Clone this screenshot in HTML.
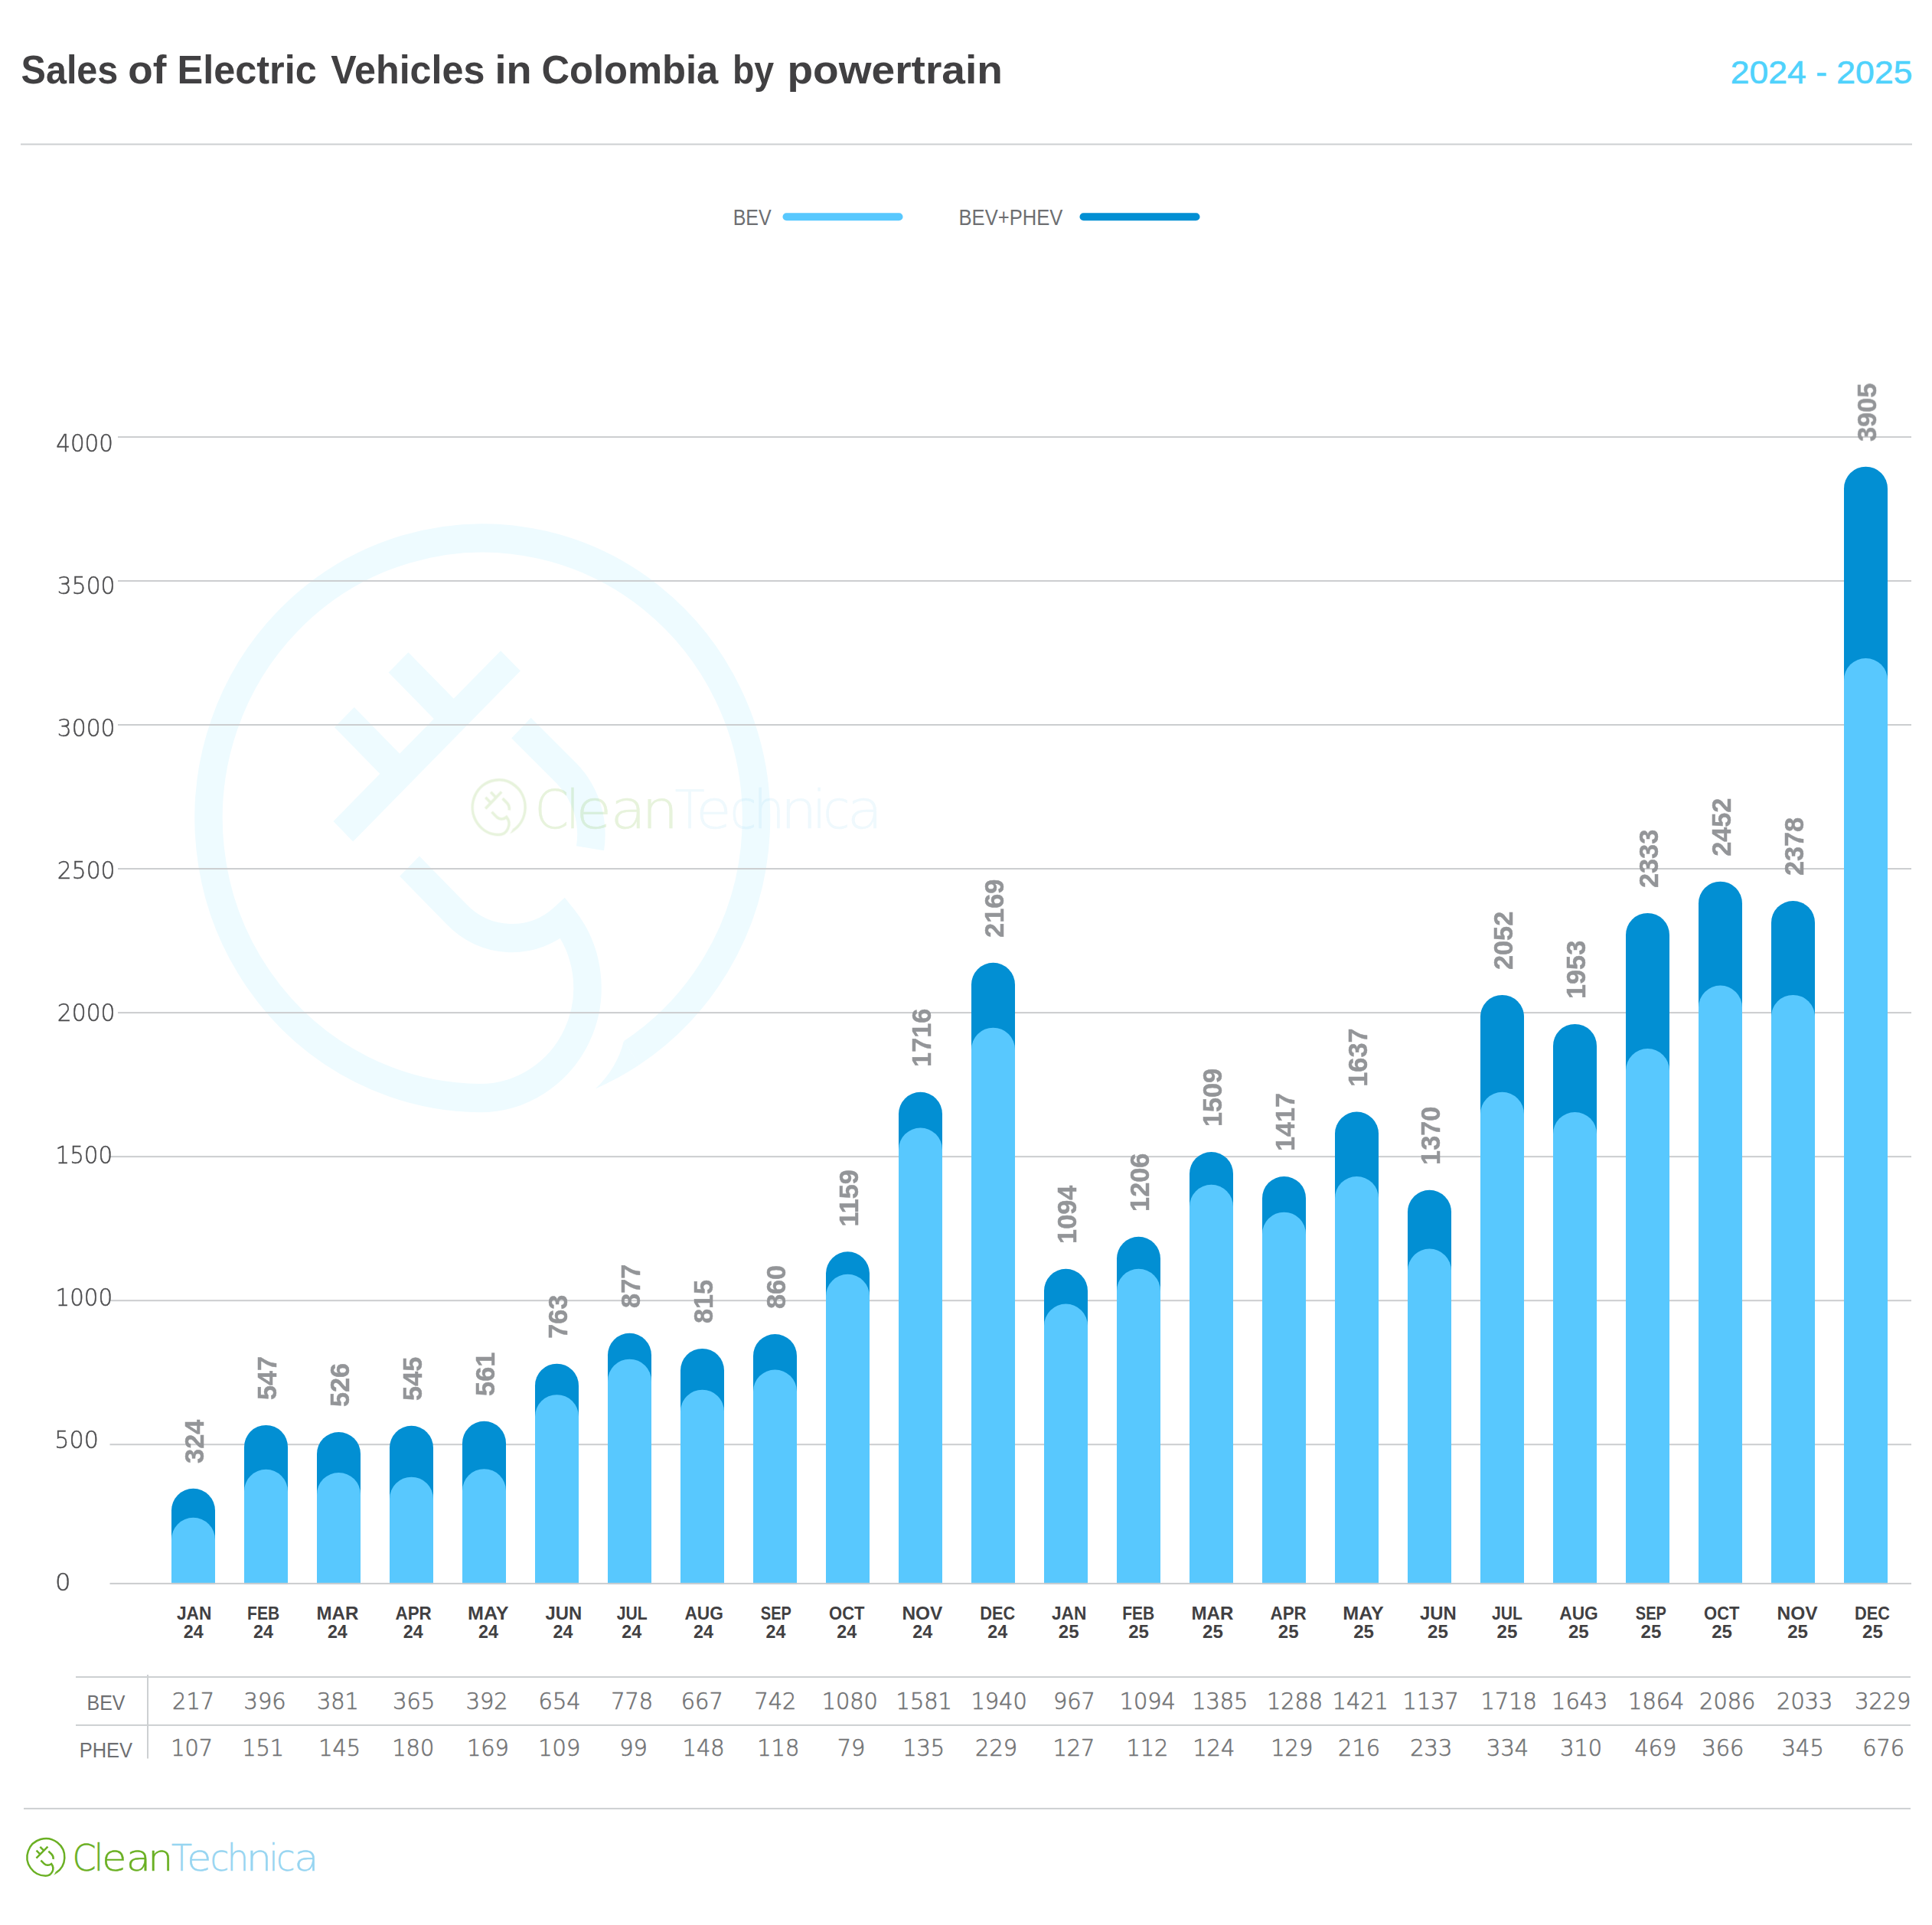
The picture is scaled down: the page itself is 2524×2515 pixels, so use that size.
<!DOCTYPE html>
<html lang="en"><head><meta charset="utf-8"><title>Sales of Electric Vehicles in Colombia by powertrain</title>
<style>html,body{margin:0;padding:0;background:#fff}svg{display:block}text{font-family:"Liberation Sans",sans-serif}.t{font-family:"DejaVu Sans Light","DejaVu Sans","Liberation Sans",sans-serif;font-weight:200}</style></head><body>
<svg width="2524" height="2515" viewBox="0 0 2524 2515">
<rect width="2524" height="2515" fill="#fff"/>
<text y="109.2" font-size="52" font-weight="700" fill="#414042"><tspan x="27.6" textLength="126.7" lengthAdjust="spacingAndGlyphs">Sales</tspan> <tspan x="167.3" textLength="50.1" lengthAdjust="spacingAndGlyphs">of</tspan> <tspan x="231.6" textLength="182.2" lengthAdjust="spacingAndGlyphs">Electric</tspan> <tspan x="432.3" textLength="201.1" lengthAdjust="spacingAndGlyphs">Vehicles</tspan> <tspan x="646.5" textLength="48.1" lengthAdjust="spacingAndGlyphs">in</tspan> <tspan x="707.4" textLength="230.8" lengthAdjust="spacingAndGlyphs">Colombia</tspan> <tspan x="956.9" textLength="54.3" lengthAdjust="spacingAndGlyphs">by</tspan> <tspan x="1028.5" textLength="281.4" lengthAdjust="spacingAndGlyphs">powertrain</tspan></text>
<text x="2260.8" y="109.0" font-size="42" fill="#4fd2fc" textLength="237.6" lengthAdjust="spacingAndGlyphs" stroke="#4fd2fc" stroke-width="0.6">2024 - 2025</text>
<rect x="27" y="187.5" width="2471" height="2" fill="#cdd0d2"/>
<text x="957.7" y="293.5" font-size="28.8" fill="#6d6e71" textLength="50.0" lengthAdjust="spacingAndGlyphs">BEV</text>
<rect x="1022.5" y="278.2" width="157" height="10" rx="5" fill="#58c8fe"/>
<text x="1252.5" y="293.5" font-size="28.8" fill="#6d6e71" textLength="135.8" lengthAdjust="spacingAndGlyphs">BEV+PHEV</text>
<rect x="1410.5" y="278.2" width="157" height="10" rx="5" fill="#028fd3"/>
<g transform="translate(630.3 1068.8) scale(376 384.5)" fill="none" stroke="#eefbff" stroke-width="0.097"><path stroke-linejoin="miter" stroke-miterlimit="10" d="M-.2535 .1633L-.0896 .3274A.268 .268 0 0 0 .2803 .3401A.3744 .3744 0 0 1 -.01 .9515A.9515 .9515 0 1 1 .5182 .798"/><path d="M.4913 .7565L.5446 .8387A1 1 0 0 1 .3923 .9198Q.468 .85 .4913 .7565Z" fill="#eefbff" stroke="none"/><path d="M.0976 -.5342L-.484 .0453M-.292 -.529L-.0998 -.3368M-.4798 -.3425L-.2869 -.1496"/><path d="M.1346 -.3058L.2915 -.1527A.295 .295 0 0 1 .3742 .1027"/></g>
<g opacity="0.16">
<g transform="translate(651.7 1054.7) scale(36.2 37.7)" fill="none" stroke="#6ab023" stroke-width="0.097"><path stroke-linejoin="miter" stroke-miterlimit="10" d="M-.2535 .1633L-.0896 .3274A.268 .268 0 0 0 .2803 .3401A.3744 .3744 0 0 1 -.01 .9515A.9515 .9515 0 1 1 .5182 .798"/><path d="M.4913 .7565L.5446 .8387A1 1 0 0 1 .3923 .9198Q.468 .85 .4913 .7565Z" fill="#6ab023" stroke="none"/><path d="M.0976 -.5342L-.484 .0453M-.292 -.529L-.0998 -.3368M-.4798 -.3425L-.2869 -.1496"/><path d="M.1346 -.3058L.2915 -.1527A.295 .295 0 0 1 .3742 .1027"/></g>
<text class="t" y="1081.8" font-size="69" fill="#6ab023" stroke="#6ab023" stroke-width="0.5"><tspan x="698.5" textLength="44.8" lengthAdjust="spacingAndGlyphs">C</tspan><tspan x="739.3" textLength="17.8" lengthAdjust="spacingAndGlyphs">l</tspan><tspan x="752.5" textLength="46.6" lengthAdjust="spacingAndGlyphs">e</tspan><tspan x="797.4" textLength="46.5" lengthAdjust="spacingAndGlyphs">a</tspan><tspan x="838.2" textLength="48.1" lengthAdjust="spacingAndGlyphs">n</tspan></text>
<text class="t" y="1081.8" font-size="69" fill="#97d5f1" stroke="#97d5f1" stroke-width="0.5"><tspan x="881.5" textLength="39.2" lengthAdjust="spacingAndGlyphs">T</tspan><tspan x="908.9" textLength="46.7" lengthAdjust="spacingAndGlyphs">e</tspan><tspan x="953.5" textLength="35.3" lengthAdjust="spacingAndGlyphs">c</tspan><tspan x="984.4" textLength="40.7" lengthAdjust="spacingAndGlyphs">h</tspan><tspan x="1019.5" textLength="48.1" lengthAdjust="spacingAndGlyphs">n</tspan><tspan x="1061.1" textLength="18.9" lengthAdjust="spacingAndGlyphs">i</tspan><tspan x="1075.3" textLength="35.3" lengthAdjust="spacingAndGlyphs">c</tspan><tspan x="1106.8" textLength="46.5" lengthAdjust="spacingAndGlyphs">a</tspan></text>
</g>
<rect x="154" y="569.90" width="2343" height="2" fill="#cbcdcf"/>
<rect x="154" y="757.95" width="2343" height="2" fill="#cbcdcf"/>
<rect x="154" y="946.00" width="2343" height="2" fill="#cbcdcf"/>
<rect x="154" y="1134.05" width="2343" height="2" fill="#cbcdcf"/>
<rect x="154" y="1322.10" width="2343" height="2" fill="#cbcdcf"/>
<rect x="143.5" y="1510.15" width="2353.5" height="2" fill="#cbcdcf"/>
<rect x="143.5" y="1698.20" width="2353.5" height="2" fill="#cbcdcf"/>
<rect x="143.5" y="1886.25" width="2353.5" height="2" fill="#cbcdcf"/>
<text class="t" x="73.2" y="590.4" font-size="32.6" fill="#4d4d4f" textLength="74.8" lengthAdjust="spacingAndGlyphs" stroke="#4d4d4f" stroke-width="0.5">4000</text>
<text class="t" x="74.8" y="776.3" font-size="32.6" fill="#4d4d4f" textLength="75.7" lengthAdjust="spacingAndGlyphs" stroke="#4d4d4f" stroke-width="0.5">3500</text>
<text class="t" x="74.8" y="962.2" font-size="32.6" fill="#4d4d4f" textLength="75.7" lengthAdjust="spacingAndGlyphs" stroke="#4d4d4f" stroke-width="0.5">3000</text>
<text class="t" x="74.8" y="1148.1" font-size="32.6" fill="#4d4d4f" textLength="75.7" lengthAdjust="spacingAndGlyphs" stroke="#4d4d4f" stroke-width="0.5">2500</text>
<text class="t" x="74.8" y="1334.0" font-size="32.6" fill="#4d4d4f" textLength="75.7" lengthAdjust="spacingAndGlyphs" stroke="#4d4d4f" stroke-width="0.5">2000</text>
<text class="t" x="72.6" y="1519.9" font-size="32.6" fill="#4d4d4f" textLength="74.5" lengthAdjust="spacingAndGlyphs" stroke="#4d4d4f" stroke-width="0.5">1500</text>
<text class="t" x="72.6" y="1705.8" font-size="32.6" fill="#4d4d4f" textLength="74.5" lengthAdjust="spacingAndGlyphs" stroke="#4d4d4f" stroke-width="0.5">1000</text>
<text class="t" x="71.3" y="1891.7" font-size="32.6" fill="#4d4d4f" textLength="57.6" lengthAdjust="spacingAndGlyphs" stroke="#4d4d4f" stroke-width="0.5">500</text>
<text class="t" x="72.1" y="2077.6" font-size="32.6" fill="#4d4d4f" textLength="20.5" lengthAdjust="spacingAndGlyphs" stroke="#4d4d4f" stroke-width="0.5">0</text>
<path d="M224.0 2069.5V1973.3A28.5 28.5 0 0 1 281.0 1973.3V2069.5Z" fill="#028fd3"/>
<path d="M224.0 2069.5V2011.3A28.5 28.5 0 0 1 281.0 2011.3V2069.5Z" fill="#58c8fe"/>
<path d="M319.0 2069.5V1890.4A28.5 28.5 0 0 1 376.0 1890.4V2069.5Z" fill="#028fd3"/>
<path d="M319.0 2069.5V1948.3A28.5 28.5 0 0 1 376.0 1948.3V2069.5Z" fill="#58c8fe"/>
<path d="M414.0 2069.5V1899.5A28.5 28.5 0 0 1 471.0 1899.5V2069.5Z" fill="#028fd3"/>
<path d="M414.0 2069.5V1952.5A28.5 28.5 0 0 1 471.0 1952.5V2069.5Z" fill="#58c8fe"/>
<path d="M509.0 2069.5V1891.3A28.5 28.5 0 0 1 566.0 1891.3V2069.5Z" fill="#028fd3"/>
<path d="M509.0 2069.5V1958.2A28.5 28.5 0 0 1 566.0 1958.2V2069.5Z" fill="#58c8fe"/>
<path d="M604.0 2069.5V1885.3A28.5 28.5 0 0 1 661.0 1885.3V2069.5Z" fill="#028fd3"/>
<path d="M604.0 2069.5V1947.7A28.5 28.5 0 0 1 661.0 1947.7V2069.5Z" fill="#58c8fe"/>
<path d="M699.0 2069.5V1810.2A28.5 28.5 0 0 1 756.0 1810.2V2069.5Z" fill="#028fd3"/>
<path d="M699.0 2069.5V1850.7A28.5 28.5 0 0 1 756.0 1850.7V2069.5Z" fill="#58c8fe"/>
<path d="M794.0 2069.5V1770.3A28.5 28.5 0 0 1 851.0 1770.3V2069.5Z" fill="#028fd3"/>
<path d="M794.0 2069.5V1804.2A28.5 28.5 0 0 1 851.0 1804.2V2069.5Z" fill="#58c8fe"/>
<path d="M889.0 2069.5V1790.4A28.5 28.5 0 0 1 946.0 1790.4V2069.5Z" fill="#028fd3"/>
<path d="M889.0 2069.5V1844.1A28.5 28.5 0 0 1 946.0 1844.1V2069.5Z" fill="#58c8fe"/>
<path d="M984.0 2069.5V1771.5A28.5 28.5 0 0 1 1041.0 1771.5V2069.5Z" fill="#028fd3"/>
<path d="M984.0 2069.5V1818.0A28.5 28.5 0 0 1 1041.0 1818.0V2069.5Z" fill="#58c8fe"/>
<path d="M1079.0 2069.5V1663.8A28.5 28.5 0 0 1 1136.0 1663.8V2069.5Z" fill="#028fd3"/>
<path d="M1079.0 2069.5V1693.3A28.5 28.5 0 0 1 1136.0 1693.3V2069.5Z" fill="#58c8fe"/>
<path d="M1174.0 2069.5V1455.3A28.5 28.5 0 0 1 1231.0 1455.3V2069.5Z" fill="#028fd3"/>
<path d="M1174.0 2069.5V1502.0A28.5 28.5 0 0 1 1231.0 1502.0V2069.5Z" fill="#58c8fe"/>
<path d="M1269.0 2069.5V1286.3A28.5 28.5 0 0 1 1326.0 1286.3V2069.5Z" fill="#028fd3"/>
<path d="M1269.0 2069.5V1371.2A28.5 28.5 0 0 1 1326.0 1371.2V2069.5Z" fill="#58c8fe"/>
<path d="M1364.0 2069.5V1686.3A28.5 28.5 0 0 1 1421.0 1686.3V2069.5Z" fill="#028fd3"/>
<path d="M1364.0 2069.5V1732.1A28.5 28.5 0 0 1 1421.0 1732.1V2069.5Z" fill="#58c8fe"/>
<path d="M1459.0 2069.5V1644.3A28.5 28.5 0 0 1 1516.0 1644.3V2069.5Z" fill="#028fd3"/>
<path d="M1459.0 2069.5V1686.3A28.5 28.5 0 0 1 1516.0 1686.3V2069.5Z" fill="#58c8fe"/>
<path d="M1554.0 2069.5V1533.5A28.5 28.5 0 0 1 1611.0 1533.5V2069.5Z" fill="#028fd3"/>
<path d="M1554.0 2069.5V1576.3A28.5 28.5 0 0 1 1611.0 1576.3V2069.5Z" fill="#58c8fe"/>
<path d="M1649.0 2069.5V1565.5A28.5 28.5 0 0 1 1706.0 1565.5V2069.5Z" fill="#028fd3"/>
<path d="M1649.0 2069.5V1612.2A28.5 28.5 0 0 1 1706.0 1612.2V2069.5Z" fill="#58c8fe"/>
<path d="M1744.0 2069.5V1481.1A28.5 28.5 0 0 1 1801.0 1481.1V2069.5Z" fill="#028fd3"/>
<path d="M1744.0 2069.5V1565.5A28.5 28.5 0 0 1 1801.0 1565.5V2069.5Z" fill="#58c8fe"/>
<path d="M1839.0 2069.5V1583.3A28.5 28.5 0 0 1 1896.0 1583.3V2069.5Z" fill="#028fd3"/>
<path d="M1839.0 2069.5V1660.1A28.5 28.5 0 0 1 1896.0 1660.1V2069.5Z" fill="#58c8fe"/>
<path d="M1934.0 2069.5V1328.4A28.5 28.5 0 0 1 1991.0 1328.4V2069.5Z" fill="#028fd3"/>
<path d="M1934.0 2069.5V1455.3A28.5 28.5 0 0 1 1991.0 1455.3V2069.5Z" fill="#58c8fe"/>
<path d="M2029.0 2069.5V1366.4A28.5 28.5 0 0 1 2086.0 1366.4V2069.5Z" fill="#028fd3"/>
<path d="M2029.0 2069.5V1481.5A28.5 28.5 0 0 1 2086.0 1481.5V2069.5Z" fill="#58c8fe"/>
<path d="M2124.0 2069.5V1221.4A28.5 28.5 0 0 1 2181.0 1221.4V2069.5Z" fill="#028fd3"/>
<path d="M2124.0 2069.5V1398.6A28.5 28.5 0 0 1 2181.0 1398.6V2069.5Z" fill="#58c8fe"/>
<path d="M2219.0 2069.5V1180.2A28.5 28.5 0 0 1 2276.0 1180.2V2069.5Z" fill="#028fd3"/>
<path d="M2219.0 2069.5V1316.1A28.5 28.5 0 0 1 2276.0 1316.1V2069.5Z" fill="#58c8fe"/>
<path d="M2314.0 2069.5V1205.5A28.5 28.5 0 0 1 2371.0 1205.5V2069.5Z" fill="#028fd3"/>
<path d="M2314.0 2069.5V1328.4A28.5 28.5 0 0 1 2371.0 1328.4V2069.5Z" fill="#58c8fe"/>
<path d="M2409.0 2069.5V638.2A28.5 28.5 0 0 1 2466.0 638.2V2069.5Z" fill="#028fd3"/>
<path d="M2409.0 2069.5V888.5A28.5 28.5 0 0 1 2466.0 888.5V2069.5Z" fill="#58c8fe"/>
<rect x="143.5" y="2067.9" width="2353.5" height="2" fill="#cbcdcf"/>
<text transform="translate(266.1 1911.9) rotate(-90)" font-size="35.8" font-weight="700" fill="#939598" stroke="#939598" stroke-width="0.5" textLength="57.1" lengthAdjust="spacingAndGlyphs">324</text>
<text transform="translate(361.1 1829.0) rotate(-90)" font-size="35.8" font-weight="700" fill="#939598" stroke="#939598" stroke-width="0.5" textLength="57.1" lengthAdjust="spacingAndGlyphs">547</text>
<text transform="translate(456.1 1838.1) rotate(-90)" font-size="35.8" font-weight="700" fill="#939598" stroke="#939598" stroke-width="0.5" textLength="57.1" lengthAdjust="spacingAndGlyphs">526</text>
<text transform="translate(551.1 1829.9) rotate(-90)" font-size="35.8" font-weight="700" fill="#939598" stroke="#939598" stroke-width="0.5" textLength="57.1" lengthAdjust="spacingAndGlyphs">545</text>
<text transform="translate(646.1 1823.9) rotate(-90)" font-size="35.8" font-weight="700" fill="#939598" stroke="#939598" stroke-width="0.5" textLength="57.1" lengthAdjust="spacingAndGlyphs">561</text>
<text transform="translate(741.1 1748.8) rotate(-90)" font-size="35.8" font-weight="700" fill="#939598" stroke="#939598" stroke-width="0.5" textLength="57.1" lengthAdjust="spacingAndGlyphs">763</text>
<text transform="translate(836.1 1708.9) rotate(-90)" font-size="35.8" font-weight="700" fill="#939598" stroke="#939598" stroke-width="0.5" textLength="57.1" lengthAdjust="spacingAndGlyphs">877</text>
<text transform="translate(931.1 1729.0) rotate(-90)" font-size="35.8" font-weight="700" fill="#939598" stroke="#939598" stroke-width="0.5" textLength="57.1" lengthAdjust="spacingAndGlyphs">815</text>
<text transform="translate(1026.1 1710.1) rotate(-90)" font-size="35.8" font-weight="700" fill="#939598" stroke="#939598" stroke-width="0.5" textLength="57.1" lengthAdjust="spacingAndGlyphs">860</text>
<text transform="translate(1121.1 1602.4) rotate(-90)" font-size="35.8" font-weight="700" fill="#939598" stroke="#939598" stroke-width="0.5" textLength="74.3" lengthAdjust="spacingAndGlyphs">1159</text>
<text transform="translate(1216.1 1393.9) rotate(-90)" font-size="35.8" font-weight="700" fill="#939598" stroke="#939598" stroke-width="0.5" textLength="76.2" lengthAdjust="spacingAndGlyphs">1716</text>
<text transform="translate(1311.1 1224.9) rotate(-90)" font-size="35.8" font-weight="700" fill="#939598" stroke="#939598" stroke-width="0.5" textLength="76.2" lengthAdjust="spacingAndGlyphs">2169</text>
<text transform="translate(1406.1 1624.9) rotate(-90)" font-size="35.8" font-weight="700" fill="#939598" stroke="#939598" stroke-width="0.5" textLength="76.2" lengthAdjust="spacingAndGlyphs">1094</text>
<text transform="translate(1501.1 1582.9) rotate(-90)" font-size="35.8" font-weight="700" fill="#939598" stroke="#939598" stroke-width="0.5" textLength="76.2" lengthAdjust="spacingAndGlyphs">1206</text>
<text transform="translate(1596.1 1472.1) rotate(-90)" font-size="35.8" font-weight="700" fill="#939598" stroke="#939598" stroke-width="0.5" textLength="76.2" lengthAdjust="spacingAndGlyphs">1509</text>
<text transform="translate(1691.1 1504.1) rotate(-90)" font-size="35.8" font-weight="700" fill="#939598" stroke="#939598" stroke-width="0.5" textLength="76.2" lengthAdjust="spacingAndGlyphs">1417</text>
<text transform="translate(1786.1 1419.7) rotate(-90)" font-size="35.8" font-weight="700" fill="#939598" stroke="#939598" stroke-width="0.5" textLength="76.2" lengthAdjust="spacingAndGlyphs">1637</text>
<text transform="translate(1881.1 1521.9) rotate(-90)" font-size="35.8" font-weight="700" fill="#939598" stroke="#939598" stroke-width="0.5" textLength="76.2" lengthAdjust="spacingAndGlyphs">1370</text>
<text transform="translate(1976.1 1267.0) rotate(-90)" font-size="35.8" font-weight="700" fill="#939598" stroke="#939598" stroke-width="0.5" textLength="76.2" lengthAdjust="spacingAndGlyphs">2052</text>
<text transform="translate(2071.1 1305.0) rotate(-90)" font-size="35.8" font-weight="700" fill="#939598" stroke="#939598" stroke-width="0.5" textLength="76.2" lengthAdjust="spacingAndGlyphs">1953</text>
<text transform="translate(2166.1 1160.0) rotate(-90)" font-size="35.8" font-weight="700" fill="#939598" stroke="#939598" stroke-width="0.5" textLength="76.2" lengthAdjust="spacingAndGlyphs">2333</text>
<text transform="translate(2261.1 1118.8) rotate(-90)" font-size="35.8" font-weight="700" fill="#939598" stroke="#939598" stroke-width="0.5" textLength="76.2" lengthAdjust="spacingAndGlyphs">2452</text>
<text transform="translate(2356.1 1144.1) rotate(-90)" font-size="35.8" font-weight="700" fill="#939598" stroke="#939598" stroke-width="0.5" textLength="76.2" lengthAdjust="spacingAndGlyphs">2378</text>
<text transform="translate(2451.1 576.8) rotate(-90)" font-size="35.8" font-weight="700" fill="#939598" stroke="#939598" stroke-width="0.5" textLength="76.2" lengthAdjust="spacingAndGlyphs">3905</text>
<text x="230.9" y="2115.9" font-size="24" font-weight="700" fill="#414042" textLength="45.4" lengthAdjust="spacingAndGlyphs">JAN</text>
<text x="239.8" y="2139.7" font-size="24" font-weight="700" fill="#414042" textLength="25.9" lengthAdjust="spacingAndGlyphs">24</text>
<text x="323.1" y="2115.9" font-size="24" font-weight="700" fill="#414042" textLength="42.0" lengthAdjust="spacingAndGlyphs">FEB</text>
<text x="331.1" y="2139.7" font-size="24" font-weight="700" fill="#414042" textLength="25.9" lengthAdjust="spacingAndGlyphs">24</text>
<text x="413.4" y="2115.9" font-size="24" font-weight="700" fill="#414042" textLength="54.9" lengthAdjust="spacingAndGlyphs">MAR</text>
<text x="427.9" y="2139.7" font-size="24" font-weight="700" fill="#414042" textLength="25.9" lengthAdjust="spacingAndGlyphs">24</text>
<text x="516.5" y="2115.9" font-size="24" font-weight="700" fill="#414042" textLength="47.3" lengthAdjust="spacingAndGlyphs">APR</text>
<text x="526.8" y="2139.7" font-size="24" font-weight="700" fill="#414042" textLength="25.9" lengthAdjust="spacingAndGlyphs">24</text>
<text x="611.1" y="2115.9" font-size="24" font-weight="700" fill="#414042" textLength="53.5" lengthAdjust="spacingAndGlyphs">MAY</text>
<text x="625.0" y="2139.7" font-size="24" font-weight="700" fill="#414042" textLength="25.9" lengthAdjust="spacingAndGlyphs">24</text>
<text x="712.6" y="2115.9" font-size="24" font-weight="700" fill="#414042" textLength="47.7" lengthAdjust="spacingAndGlyphs">JUN</text>
<text x="722.5" y="2139.7" font-size="24" font-weight="700" fill="#414042" textLength="25.9" lengthAdjust="spacingAndGlyphs">24</text>
<text x="805.8" y="2115.9" font-size="24" font-weight="700" fill="#414042" textLength="40.0" lengthAdjust="spacingAndGlyphs">JUL</text>
<text x="812.2" y="2139.7" font-size="24" font-weight="700" fill="#414042" textLength="25.9" lengthAdjust="spacingAndGlyphs">24</text>
<text x="894.4" y="2115.9" font-size="24" font-weight="700" fill="#414042" textLength="50.6" lengthAdjust="spacingAndGlyphs">AUG</text>
<text x="906.1" y="2139.7" font-size="24" font-weight="700" fill="#414042" textLength="25.9" lengthAdjust="spacingAndGlyphs">24</text>
<text x="993.8" y="2115.9" font-size="24" font-weight="700" fill="#414042" textLength="40.1" lengthAdjust="spacingAndGlyphs">SEP</text>
<text x="1000.5" y="2139.7" font-size="24" font-weight="700" fill="#414042" textLength="25.9" lengthAdjust="spacingAndGlyphs">24</text>
<text x="1083.1" y="2115.9" font-size="24" font-weight="700" fill="#414042" textLength="46.4" lengthAdjust="spacingAndGlyphs">OCT</text>
<text x="1093.2" y="2139.7" font-size="24" font-weight="700" fill="#414042" textLength="25.9" lengthAdjust="spacingAndGlyphs">24</text>
<text x="1178.4" y="2115.9" font-size="24" font-weight="700" fill="#414042" textLength="53.0" lengthAdjust="spacingAndGlyphs">NOV</text>
<text x="1192.2" y="2139.7" font-size="24" font-weight="700" fill="#414042" textLength="25.9" lengthAdjust="spacingAndGlyphs">24</text>
<text x="1280.3" y="2115.9" font-size="24" font-weight="700" fill="#414042" textLength="45.9" lengthAdjust="spacingAndGlyphs">DEC</text>
<text x="1290.3" y="2139.7" font-size="24" font-weight="700" fill="#414042" textLength="25.9" lengthAdjust="spacingAndGlyphs">24</text>
<text x="1374.0" y="2115.9" font-size="24" font-weight="700" fill="#414042" textLength="45.4" lengthAdjust="spacingAndGlyphs">JAN</text>
<text x="1382.8" y="2139.7" font-size="24" font-weight="700" fill="#414042" textLength="26.8" lengthAdjust="spacingAndGlyphs">25</text>
<text x="1466.2" y="2115.9" font-size="24" font-weight="700" fill="#414042" textLength="42.0" lengthAdjust="spacingAndGlyphs">FEB</text>
<text x="1474.2" y="2139.7" font-size="24" font-weight="700" fill="#414042" textLength="26.8" lengthAdjust="spacingAndGlyphs">25</text>
<text x="1556.4" y="2115.9" font-size="24" font-weight="700" fill="#414042" textLength="54.9" lengthAdjust="spacingAndGlyphs">MAR</text>
<text x="1571.0" y="2139.7" font-size="24" font-weight="700" fill="#414042" textLength="26.8" lengthAdjust="spacingAndGlyphs">25</text>
<text x="1659.5" y="2115.9" font-size="24" font-weight="700" fill="#414042" textLength="47.3" lengthAdjust="spacingAndGlyphs">APR</text>
<text x="1669.8" y="2139.7" font-size="24" font-weight="700" fill="#414042" textLength="26.8" lengthAdjust="spacingAndGlyphs">25</text>
<text x="1754.3" y="2115.9" font-size="24" font-weight="700" fill="#414042" textLength="53.5" lengthAdjust="spacingAndGlyphs">MAY</text>
<text x="1768.2" y="2139.7" font-size="24" font-weight="700" fill="#414042" textLength="26.8" lengthAdjust="spacingAndGlyphs">25</text>
<text x="1855.0" y="2115.9" font-size="24" font-weight="700" fill="#414042" textLength="47.7" lengthAdjust="spacingAndGlyphs">JUN</text>
<text x="1865.0" y="2139.7" font-size="24" font-weight="700" fill="#414042" textLength="26.8" lengthAdjust="spacingAndGlyphs">25</text>
<text x="1949.0" y="2115.9" font-size="24" font-weight="700" fill="#414042" textLength="40.0" lengthAdjust="spacingAndGlyphs">JUL</text>
<text x="1955.5" y="2139.7" font-size="24" font-weight="700" fill="#414042" textLength="26.8" lengthAdjust="spacingAndGlyphs">25</text>
<text x="2037.2" y="2115.9" font-size="24" font-weight="700" fill="#414042" textLength="50.6" lengthAdjust="spacingAndGlyphs">AUG</text>
<text x="2048.9" y="2139.7" font-size="24" font-weight="700" fill="#414042" textLength="26.8" lengthAdjust="spacingAndGlyphs">25</text>
<text x="2136.8" y="2115.9" font-size="24" font-weight="700" fill="#414042" textLength="40.1" lengthAdjust="spacingAndGlyphs">SEP</text>
<text x="2143.6" y="2139.7" font-size="24" font-weight="700" fill="#414042" textLength="26.8" lengthAdjust="spacingAndGlyphs">25</text>
<text x="2226.1" y="2115.9" font-size="24" font-weight="700" fill="#414042" textLength="46.4" lengthAdjust="spacingAndGlyphs">OCT</text>
<text x="2236.2" y="2139.7" font-size="24" font-weight="700" fill="#414042" textLength="26.8" lengthAdjust="spacingAndGlyphs">25</text>
<text x="2321.5" y="2115.9" font-size="24" font-weight="700" fill="#414042" textLength="53.0" lengthAdjust="spacingAndGlyphs">NOV</text>
<text x="2335.2" y="2139.7" font-size="24" font-weight="700" fill="#414042" textLength="26.8" lengthAdjust="spacingAndGlyphs">25</text>
<text x="2423.0" y="2115.9" font-size="24" font-weight="700" fill="#414042" textLength="45.9" lengthAdjust="spacingAndGlyphs">DEC</text>
<text x="2433.1" y="2139.7" font-size="24" font-weight="700" fill="#414042" textLength="26.8" lengthAdjust="spacingAndGlyphs">25</text>
<rect x="99" y="2190" width="2397" height="2" fill="#cdd0d2"/>
<rect x="99" y="2252.9" width="2397" height="2" fill="#cdd0d2"/>
<rect x="192" y="2188" width="2" height="109.5" fill="#cdd0d2"/>
<text x="113.6" y="2234.0" font-size="28" fill="#6d6e71" textLength="49.9" lengthAdjust="spacingAndGlyphs">BEV</text>
<text x="103.7" y="2296.0" font-size="28" fill="#6d6e71" textLength="69.4" lengthAdjust="spacingAndGlyphs">PHEV</text>
<text class="t" x="225.1" y="2233.4" font-size="30.6" fill="#737476" textLength="54.9" lengthAdjust="spacingAndGlyphs" stroke="#737476" stroke-width="0.7">217</text>
<text class="t" x="223.2" y="2294.4" font-size="30.6" fill="#737476" textLength="54.9" lengthAdjust="spacingAndGlyphs" stroke="#737476" stroke-width="0.7">107</text>
<text class="t" x="318.6" y="2233.4" font-size="30.6" fill="#737476" textLength="54.9" lengthAdjust="spacingAndGlyphs" stroke="#737476" stroke-width="0.7">396</text>
<text class="t" x="316.2" y="2294.4" font-size="30.6" fill="#737476" textLength="54.9" lengthAdjust="spacingAndGlyphs" stroke="#737476" stroke-width="0.7">151</text>
<text class="t" x="413.9" y="2233.4" font-size="30.6" fill="#737476" textLength="54.9" lengthAdjust="spacingAndGlyphs" stroke="#737476" stroke-width="0.7">381</text>
<text class="t" x="416.2" y="2294.4" font-size="30.6" fill="#737476" textLength="54.9" lengthAdjust="spacingAndGlyphs" stroke="#737476" stroke-width="0.7">145</text>
<text class="t" x="513.3" y="2233.4" font-size="30.6" fill="#737476" textLength="54.9" lengthAdjust="spacingAndGlyphs" stroke="#737476" stroke-width="0.7">365</text>
<text class="t" x="512.3" y="2294.4" font-size="30.6" fill="#737476" textLength="54.9" lengthAdjust="spacingAndGlyphs" stroke="#737476" stroke-width="0.7">180</text>
<text class="t" x="608.7" y="2233.4" font-size="30.6" fill="#737476" textLength="54.9" lengthAdjust="spacingAndGlyphs" stroke="#737476" stroke-width="0.7">392</text>
<text class="t" x="610.0" y="2294.4" font-size="30.6" fill="#737476" textLength="54.9" lengthAdjust="spacingAndGlyphs" stroke="#737476" stroke-width="0.7">169</text>
<text class="t" x="703.6" y="2233.4" font-size="30.6" fill="#737476" textLength="54.9" lengthAdjust="spacingAndGlyphs" stroke="#737476" stroke-width="0.7">654</text>
<text class="t" x="703.3" y="2294.4" font-size="30.6" fill="#737476" textLength="54.9" lengthAdjust="spacingAndGlyphs" stroke="#737476" stroke-width="0.7">109</text>
<text class="t" x="798.2" y="2233.4" font-size="30.6" fill="#737476" textLength="54.9" lengthAdjust="spacingAndGlyphs" stroke="#737476" stroke-width="0.7">778</text>
<text class="t" x="809.3" y="2294.4" font-size="30.6" fill="#737476" textLength="36.6" lengthAdjust="spacingAndGlyphs" stroke="#737476" stroke-width="0.7">99</text>
<text class="t" x="889.8" y="2233.4" font-size="30.6" fill="#737476" textLength="54.9" lengthAdjust="spacingAndGlyphs" stroke="#737476" stroke-width="0.7">667</text>
<text class="t" x="891.6" y="2294.4" font-size="30.6" fill="#737476" textLength="54.9" lengthAdjust="spacingAndGlyphs" stroke="#737476" stroke-width="0.7">148</text>
<text class="t" x="985.4" y="2233.4" font-size="30.6" fill="#737476" textLength="54.9" lengthAdjust="spacingAndGlyphs" stroke="#737476" stroke-width="0.7">742</text>
<text class="t" x="989.3" y="2294.4" font-size="30.6" fill="#737476" textLength="54.9" lengthAdjust="spacingAndGlyphs" stroke="#737476" stroke-width="0.7">118</text>
<text class="t" x="1073.7" y="2233.4" font-size="30.6" fill="#737476" textLength="73.2" lengthAdjust="spacingAndGlyphs" stroke="#737476" stroke-width="0.7">1080</text>
<text class="t" x="1093.7" y="2294.4" font-size="30.6" fill="#737476" textLength="36.6" lengthAdjust="spacingAndGlyphs" stroke="#737476" stroke-width="0.7">79</text>
<text class="t" x="1170.6" y="2233.4" font-size="30.6" fill="#737476" textLength="73.2" lengthAdjust="spacingAndGlyphs" stroke="#737476" stroke-width="0.7">1581</text>
<text class="t" x="1179.2" y="2294.4" font-size="30.6" fill="#737476" textLength="54.9" lengthAdjust="spacingAndGlyphs" stroke="#737476" stroke-width="0.7">135</text>
<text class="t" x="1268.5" y="2233.4" font-size="30.6" fill="#737476" textLength="73.2" lengthAdjust="spacingAndGlyphs" stroke="#737476" stroke-width="0.7">1940</text>
<text class="t" x="1274.1" y="2294.4" font-size="30.6" fill="#737476" textLength="54.9" lengthAdjust="spacingAndGlyphs" stroke="#737476" stroke-width="0.7">229</text>
<text class="t" x="1375.9" y="2233.4" font-size="30.6" fill="#737476" textLength="54.9" lengthAdjust="spacingAndGlyphs" stroke="#737476" stroke-width="0.7">967</text>
<text class="t" x="1375.4" y="2294.4" font-size="30.6" fill="#737476" textLength="54.9" lengthAdjust="spacingAndGlyphs" stroke="#737476" stroke-width="0.7">127</text>
<text class="t" x="1462.7" y="2233.4" font-size="30.6" fill="#737476" textLength="73.2" lengthAdjust="spacingAndGlyphs" stroke="#737476" stroke-width="0.7">1094</text>
<text class="t" x="1471.5" y="2294.4" font-size="30.6" fill="#737476" textLength="54.9" lengthAdjust="spacingAndGlyphs" stroke="#737476" stroke-width="0.7">112</text>
<text class="t" x="1557.2" y="2233.4" font-size="30.6" fill="#737476" textLength="73.2" lengthAdjust="spacingAndGlyphs" stroke="#737476" stroke-width="0.7">1385</text>
<text class="t" x="1558.3" y="2294.4" font-size="30.6" fill="#737476" textLength="54.9" lengthAdjust="spacingAndGlyphs" stroke="#737476" stroke-width="0.7">124</text>
<text class="t" x="1654.9" y="2233.4" font-size="30.6" fill="#737476" textLength="73.2" lengthAdjust="spacingAndGlyphs" stroke="#737476" stroke-width="0.7">1288</text>
<text class="t" x="1660.3" y="2294.4" font-size="30.6" fill="#737476" textLength="54.9" lengthAdjust="spacingAndGlyphs" stroke="#737476" stroke-width="0.7">129</text>
<text class="t" x="1740.6" y="2233.4" font-size="30.6" fill="#737476" textLength="73.2" lengthAdjust="spacingAndGlyphs" stroke="#737476" stroke-width="0.7">1421</text>
<text class="t" x="1748.1" y="2294.4" font-size="30.6" fill="#737476" textLength="54.9" lengthAdjust="spacingAndGlyphs" stroke="#737476" stroke-width="0.7">216</text>
<text class="t" x="1832.6" y="2233.4" font-size="30.6" fill="#737476" textLength="73.2" lengthAdjust="spacingAndGlyphs" stroke="#737476" stroke-width="0.7">1137</text>
<text class="t" x="1842.3" y="2294.4" font-size="30.6" fill="#737476" textLength="54.9" lengthAdjust="spacingAndGlyphs" stroke="#737476" stroke-width="0.7">233</text>
<text class="t" x="1934.6" y="2233.4" font-size="30.6" fill="#737476" textLength="73.2" lengthAdjust="spacingAndGlyphs" stroke="#737476" stroke-width="0.7">1718</text>
<text class="t" x="1942.1" y="2294.4" font-size="30.6" fill="#737476" textLength="54.9" lengthAdjust="spacingAndGlyphs" stroke="#737476" stroke-width="0.7">334</text>
<text class="t" x="2027.1" y="2233.4" font-size="30.6" fill="#737476" textLength="73.2" lengthAdjust="spacingAndGlyphs" stroke="#737476" stroke-width="0.7">1643</text>
<text class="t" x="2038.2" y="2294.4" font-size="30.6" fill="#737476" textLength="54.9" lengthAdjust="spacingAndGlyphs" stroke="#737476" stroke-width="0.7">310</text>
<text class="t" x="2127.1" y="2233.4" font-size="30.6" fill="#737476" textLength="73.2" lengthAdjust="spacingAndGlyphs" stroke="#737476" stroke-width="0.7">1864</text>
<text class="t" x="2135.5" y="2294.4" font-size="30.6" fill="#737476" textLength="54.9" lengthAdjust="spacingAndGlyphs" stroke="#737476" stroke-width="0.7">469</text>
<text class="t" x="2220.1" y="2233.4" font-size="30.6" fill="#737476" textLength="73.2" lengthAdjust="spacingAndGlyphs" stroke="#737476" stroke-width="0.7">2086</text>
<text class="t" x="2223.5" y="2294.4" font-size="30.6" fill="#737476" textLength="54.9" lengthAdjust="spacingAndGlyphs" stroke="#737476" stroke-width="0.7">366</text>
<text class="t" x="2321.1" y="2233.4" font-size="30.6" fill="#737476" textLength="73.2" lengthAdjust="spacingAndGlyphs" stroke="#737476" stroke-width="0.7">2033</text>
<text class="t" x="2327.8" y="2294.4" font-size="30.6" fill="#737476" textLength="54.9" lengthAdjust="spacingAndGlyphs" stroke="#737476" stroke-width="0.7">345</text>
<text class="t" x="2423.2" y="2233.4" font-size="30.6" fill="#737476" textLength="73.2" lengthAdjust="spacingAndGlyphs" stroke="#737476" stroke-width="0.7">3229</text>
<text class="t" x="2433.2" y="2294.4" font-size="30.6" fill="#737476" textLength="54.9" lengthAdjust="spacingAndGlyphs" stroke="#737476" stroke-width="0.7">676</text>
<rect x="31" y="2361.9" width="2465" height="2" fill="#cdd0d2"/>
<g transform="translate(59.9 2426.4) scale(25.7 25.6)" fill="none" stroke="#6ab023" stroke-width="0.097"><path stroke-linejoin="miter" stroke-miterlimit="10" d="M-.2535 .1633L-.0896 .3274A.268 .268 0 0 0 .2803 .3401A.3744 .3744 0 0 1 -.01 .9515A.9515 .9515 0 1 1 .5182 .798"/><path d="M.4913 .7565L.5446 .8387A1 1 0 0 1 .3923 .9198Q.468 .85 .4913 .7565Z" fill="#6ab023" stroke="none"/><path d="M.0976 -.5342L-.484 .0453M-.292 -.529L-.0998 -.3368M-.4798 -.3425L-.2869 -.1496"/><path d="M.1346 -.3058L.2915 -.1527A.295 .295 0 0 1 .3742 .1027"/></g>
<text class="t" y="2444.0" font-size="48" fill="#6ab023" stroke="#6ab023" stroke-width="0.4"><tspan x="94.6" textLength="31.2" lengthAdjust="spacingAndGlyphs">C</tspan><tspan x="122.7" textLength="12.4" lengthAdjust="spacingAndGlyphs">l</tspan><tspan x="133.0" textLength="32.5" lengthAdjust="spacingAndGlyphs">e</tspan><tspan x="164.8" textLength="32.4" lengthAdjust="spacingAndGlyphs">a</tspan><tspan x="193.1" textLength="33.5" lengthAdjust="spacingAndGlyphs">n</tspan></text>
<text class="t" y="2444.0" font-size="48" fill="#97d5f1" stroke="#97d5f1" stroke-width="0.4"><tspan x="223.7" textLength="27.3" lengthAdjust="spacingAndGlyphs">T</tspan><tspan x="243.9" textLength="32.5" lengthAdjust="spacingAndGlyphs">e</tspan><tspan x="274.6" textLength="24.9" lengthAdjust="spacingAndGlyphs">c</tspan><tspan x="296.6" textLength="28.7" lengthAdjust="spacingAndGlyphs">h</tspan><tspan x="321.7" textLength="33.5" lengthAdjust="spacingAndGlyphs">n</tspan><tspan x="351.3" textLength="12.4" lengthAdjust="spacingAndGlyphs">i</tspan><tspan x="361.1" textLength="24.6" lengthAdjust="spacingAndGlyphs">c</tspan><tspan x="384.3" textLength="32.4" lengthAdjust="spacingAndGlyphs">a</tspan></text>
</svg></body></html>
